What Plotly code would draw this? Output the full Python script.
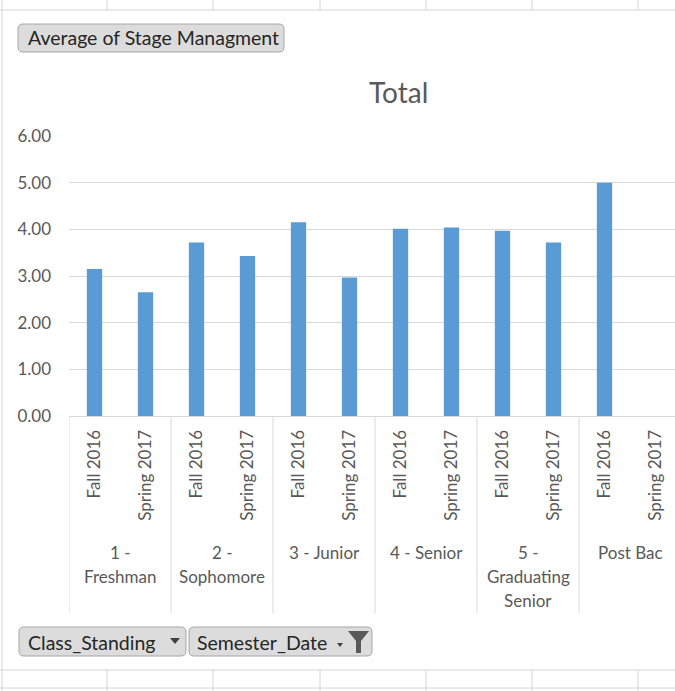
import plotly.graph_objects as go

# ---------------- data ----------------
class_standing = ["1 -\nFreshman", "2 -\nSophomore", "3 - Junior", "4 - Senior",
                  "5 -\nGraduating\nSenior", "Post Bac"]
semesters = ["Fall 2016", "Spring 2017"]
avg_fall = [3.15, 3.72, 4.15, 4.01, 3.97, 5.00]
avg_spring = [2.65, 3.43, 2.97, 4.04, 3.72, None]
y_ticks = [0, 1, 2, 3, 4, 5, 6]

# ---------------- layout geometry ----------------
W_FIG, H_FIG = 675, 691
L, T, PW, PH = 69, 136, 606, 280
SLOT = 51.0

def px(x):
    return (x - L) / PW

def py(y):
    return (T + PH - y) / PH

FONT = "Lato"
GREY = "#595959"
GRID = "#D9D9D9"
CELL = "#D4D4D4"

# flatten pivot into positions
xs, ys, ticktext = [], [], []
for i, _ in enumerate(class_standing):
    for j, s in enumerate(semesters):
        xs.append(2 * i + j)
        ys.append(avg_fall[i] if j == 0 else avg_spring[i])
        ticktext.append(s)

fig = go.Figure()
fig.add_trace(go.Bar(x=xs, y=ys, width=0.3, marker=dict(color="#5B9BD5", line=dict(width=0)),
                     showlegend=False, hoverinfo="y"))

shapes = []
annotations = []

# group dividers and group labels
for i, lab in enumerate(class_standing):
    shapes.append(dict(type="line", xref="x", yref="paper", x0=2 * i - 0.5, x1=2 * i - 0.5,
                       y0=0, y1=py(613), line=dict(color=GRID, width=1)))
    for k, line in enumerate(lab.split("\n")):
        annotations.append(dict(xref="x", yref="paper", x=2 * i + 0.5, y=py(552 + 24 * k),
                                text=line, showarrow=False, xanchor="center", yanchor="middle",
                                font=dict(family=FONT, size=17, color=GREY)))
shapes.append(dict(type="line", xref="x", yref="paper", x0=2 * len(class_standing) - 0.5,
                   x1=2 * len(class_standing) - 0.5, y0=0, y1=py(613), line=dict(color=GRID, width=1)))

# spreadsheet cell lines (background decoration)
cols = [107, 213, 320, 426, 532, 638]
shapes.append(dict(type="line", xref="paper", yref="paper", x0=px(0), x1=px(675), y0=py(10), y1=py(10),
                   line=dict(color=CELL, width=1), layer="below"))
for c in cols:
    shapes.append(dict(type="line", xref="paper", yref="paper", x0=px(c), x1=px(c), y0=py(0), y1=py(10),
                       line=dict(color=CELL, width=1), layer="below"))
    shapes.append(dict(type="line", xref="paper", yref="paper", x0=px(c), x1=px(c), y0=py(670), y1=py(691),
                       line=dict(color=CELL, width=1), layer="below"))
shapes.append(dict(type="line", xref="paper", yref="paper", x0=px(2), x1=px(2), y0=py(0), y1=py(691),
                   line=dict(color=CELL, width=1), layer="below"))
for yy in [670, 688]:
    shapes.append(dict(type="line", xref="paper", yref="paper", x0=px(0), x1=px(675), y0=py(yy), y1=py(yy),
                       line=dict(color=CELL, width=1), layer="below"))


def rrect(x0, y0, x1, y1, r=5):
    pts = (f"M {px(x0 + r)},{py(y0)} L {px(x1 - r)},{py(y0)} Q {px(x1)},{py(y0)} {px(x1)},{py(y0 + r)} "
           f"L {px(x1)},{py(y1 - r)} Q {px(x1)},{py(y1)} {px(x1 - r)},{py(y1)} "
           f"L {px(x0 + r)},{py(y1)} Q {px(x0)},{py(y1)} {px(x0)},{py(y1 - r)} "
           f"L {px(x0)},{py(y0 + r)} Q {px(x0)},{py(y0)} {px(x0 + r)},{py(y0)} Z")
    return dict(type="path", xref="paper", yref="paper", path=pts, fillcolor="#DCDCDC",
                line=dict(color="#A6A6A6", width=1))


def poly(points, color="#404040"):
    p = "M " + " L ".join(f"{px(a)},{py(b)}" for a, b in points) + " Z"
    return dict(type="path", xref="paper", yref="paper", path=p, fillcolor=color, line=dict(width=0))


# buttons
shapes.append(rrect(18, 24, 284, 52))
shapes.append(rrect(19, 627, 186, 656))
shapes.append(rrect(189, 627, 372, 656))
shapes.append(poly([(170, 638), (180, 638), (175, 644)]))
shapes.append(poly([(337, 643), (343, 643), (340, 647)]))
shapes.append(poly([(348, 631), (369, 631), (361, 641), (361, 653), (356, 653), (356, 641)], "#595959"))

BTN_FONT = dict(family=FONT, size=19.5, color="#262626")
annotations.append(dict(xref="paper", yref="paper", x=px(26), y=py(38), text="Average of Stage Managment",
                        showarrow=False, xanchor="left", yanchor="middle", font=BTN_FONT))
annotations.append(dict(xref="paper", yref="paper", x=px(26), y=py(642), text="Class_Standing",
                        showarrow=False, xanchor="left", yanchor="middle", font=BTN_FONT))
annotations.append(dict(xref="paper", yref="paper", x=px(195), y=py(642), text="Semester_Date",
                        showarrow=False, xanchor="left", yanchor="middle", font=BTN_FONT))
# chart title
annotations.append(dict(xref="paper", yref="paper", x=px(398), y=py(92), text="Total",
                        showarrow=False, xanchor="center", yanchor="middle",
                        font=dict(family=FONT, size=28, color=GREY)))

fig.update_layout(
    width=W_FIG, height=H_FIG,
    margin=dict(l=L, r=W_FIG - L - PW, t=T, b=H_FIG - T - PH, pad=0),
    paper_bgcolor="white", plot_bgcolor="white",
    shapes=shapes, annotations=annotations,
    bargap=0.7,
    xaxis=dict(range=[-0.5, -0.5 + PW / SLOT], tickmode="array", tickvals=xs, ticktext=ticktext,
               tickangle=-90, showgrid=False, zeroline=False, showline=True, linecolor=GRID,
               ticks="", ticklabelstandoff=6,
               tickfont=dict(family=FONT, size=17, color=GREY), fixedrange=True),
    yaxis=dict(range=[0, 6], tickmode="array", tickvals=y_ticks, tickformat=".2f",
               showgrid=True, gridcolor=GRID, gridwidth=1, zeroline=False, showline=False,
               ticks="", ticklabelstandoff=17,
               tickfont=dict(family=FONT, size=17, color=GREY), fixedrange=True),
    font=dict(family=FONT, color=GREY),
)

fig.write_html("out.html", config={"displayModeBar": False},
               post_script="document.body.style.margin='0';document.body.style.overflow='hidden';")
